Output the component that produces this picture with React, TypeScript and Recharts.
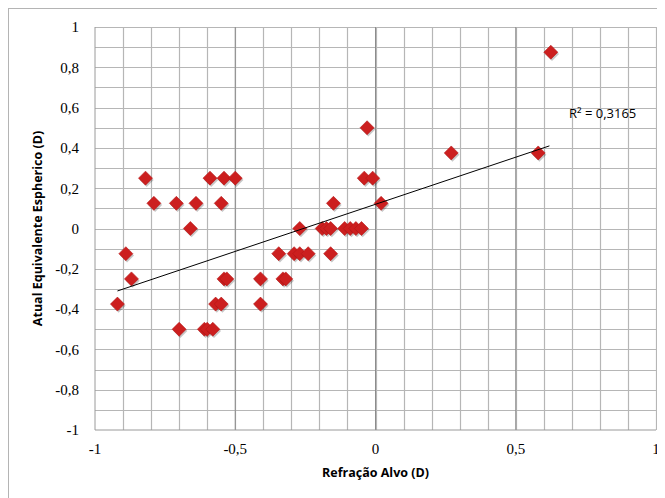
import React from 'react';
import { ScatterChart, Scatter, XAxis, YAxis, CartesianGrid, ReferenceDot, ReferenceLine } from 'recharts';

const refracaoAlvo = [
  -0.92, -0.89, -0.87, -0.82, -0.79, -0.71, -0.70, -0.66, -0.64, -0.61, -0.60, -0.58,
  -0.59, -0.57, -0.55, -0.55, -0.54, -0.54, -0.53, -0.50, -0.41, -0.41, -0.345, -0.33,
  -0.32, -0.29, -0.27, -0.24, -0.27, -0.19, -0.175, -0.16, -0.16, -0.15, -0.11, -0.09,
  -0.07, -0.05, -0.03, -0.04, -0.01, 0.02, 0.27, 0.58, 0.625,
];
const atualEquivalente = [
  -0.375, -0.125, -0.25, 0.25, 0.125, 0.125, -0.5, 0, 0.125, -0.5, -0.5, -0.5,
  0.25, -0.375, -0.375, 0.125, 0.25, -0.25, -0.25, 0.25, -0.25, -0.375, -0.125, -0.25,
  -0.25, -0.125, -0.125, -0.125, 0, 0, 0, 0, -0.125, 0.125, 0, 0,
  0, 0, 0.5, 0.25, 0.25, 0.125, 0.375, 0.375, 0.875,
];
const trendX = [-0.92, 0.62];
const trendY = [-0.31, 0.41];
const xTicks = [-1, -0.5, 0, 0.5, 1];
const yTicks = [-1, -0.8, -0.6, -0.4, -0.2, 0, 0.2, 0.4, 0.6, 0.8, 1];
const xGrid = [-0.9, -0.8, -0.7, -0.6, -0.5, -0.4, -0.3, -0.2, -0.1, 0, 0.1, 0.2, 0.3, 0.4, 0.5, 0.6, 0.7, 0.8, 0.9, 1];
const yGrid = [1, 0.9, 0.8, 0.7, 0.6, 0.5, 0.4, 0.3, 0.2, 0.1, 0, -0.1, -0.2, -0.3, -0.4, -0.5, -0.6, -0.7, -0.8, -0.9];
const xMajor = [-0.5, 0, 0.5];
const rSquaredText = 'R² = 0,3165';
const xTitle = 'Refração Alvo (D)';
const yTitle = 'Atual Equivalente Espherico (D)';

const points = refracaoAlvo.map((x, i) => ({ x, y: atualEquivalente[i] }));
const trend = trendX.map((x, i) => ({ x, y: trendY[i] }));

const fmt = (v: number) => String(v).replace('.', ',');

const W = 654;
const H = 495;
const M = { top: 18, right: 7, bottom: 14, left: 0 };
const Y_W = 86;
const X_H = 60;
const plotLeft = M.left + Y_W;
const plotWidth = W - M.right - plotLeft;
const plotTop = M.top;
const plotHeight = H - M.bottom - X_H - plotTop;
const gridXPx = xGrid.map((v) => Math.round(plotLeft + ((v + 1) / 2) * plotWidth) + 0.5);
const gridYPx = yGrid.map((v) => Math.round(plotTop + ((1 - v) / 2) * plotHeight) + 0.5);

const Diamond = (props: any) => {
  const { cx, cy } = props;
  if (cx == null || cy == null) return null;
  const r = 7;
  const p = (dx: number, dy: number) =>
    `${cx + dx},${cy - r + dy} ${cx + r + dx},${cy + dy} ${cx + dx},${cy + r + dy} ${cx - r + dx},${cy + dy}`;
  return (
    <g>
      <polygon points={p(1.2, 1.8)} fill="rgba(0,0,0,0.22)" />
      <polygon points={p(0, 0)} fill="#CC1F1F" stroke="#B51818" strokeWidth={0.6} />
    </g>
  );
};

const tickFont = { fontFamily: '"Liberation Serif", serif', fontSize: 15, fill: '#000' };
const titleFont = { fontFamily: '"Open Sans", sans-serif', fontSize: 12.5, fontWeight: 700, fill: '#000' };

export default function App() {
  return (
    <div style={{ width: W, height: H, border: '1px solid #b4b4b4', background: '#fff' }}>
      <ScatterChart width={W} height={H} margin={M}>
        <CartesianGrid stroke="#b6b6b6" strokeWidth={1.2} verticalPoints={gridXPx} horizontalPoints={gridYPx} />
        {xMajor.map((v) => (
          <ReferenceLine key={'xM' + v} x={v} stroke="#8c8c8c" />
        ))}
        <XAxis
          type="number"
          dataKey="x"
          domain={[-1, 1]}
          ticks={xTicks}
          tickFormatter={fmt}
          tick={tickFont}
          tickLine={false}
          tickSize={0}
          tickMargin={13}
          axisLine={{ stroke: '#9a9a9a' }}
          height={X_H}
          label={{
            content: (p: any) => (
              <text
                x={p.viewBox.x + p.viewBox.width / 2}
                y={p.viewBox.y + 42}
                textAnchor="middle"
                dominantBaseline="central"
                style={titleFont}
              >
                {xTitle}
              </text>
            ),
          }}
        />
        <YAxis
          type="number"
          dataKey="y"
          domain={[-1, 1]}
          ticks={yTicks}
          tickFormatter={fmt}
          tick={tickFont}
          tickLine={false}
          tickSize={0}
          tickMargin={16}
          axisLine={{ stroke: '#9a9a9a' }}
          width={Y_W}
          label={{
            content: (p: any) => {
              const cx = 28;
              const cy = p.viewBox.y + p.viewBox.height / 2;
              return (
                <text
                  x={cx}
                  y={cy}
                  transform={`rotate(-90 ${cx} ${cy})`}
                  textAnchor="middle"
                  dominantBaseline="central"
                  style={titleFont}
                >
                  {yTitle}
                </text>
              );
            },
          }}
        />
        <Scatter data={points} shape={Diamond} isAnimationActive={false} />
        <Scatter
          data={trend}
          line={{ stroke: '#000', strokeWidth: 1 }}
          shape={() => null}
          isAnimationActive={false}
        />
        <ReferenceDot
          x={0.69}
          y={0.575}
          r={0}
          fill="none"
          stroke="none"
          label={{
            content: (p: any) => (
              <text
                x={p.viewBox.x}
                y={p.viewBox.y}
                textAnchor="start"
                dominantBaseline="central"
                style={{ fontFamily: '"Open Sans", sans-serif', fontSize: 13, fill: '#000' }}
              >
                {rSquaredText}
              </text>
            ),
          }}
        />
      </ScatterChart>
    </div>
  );
}
